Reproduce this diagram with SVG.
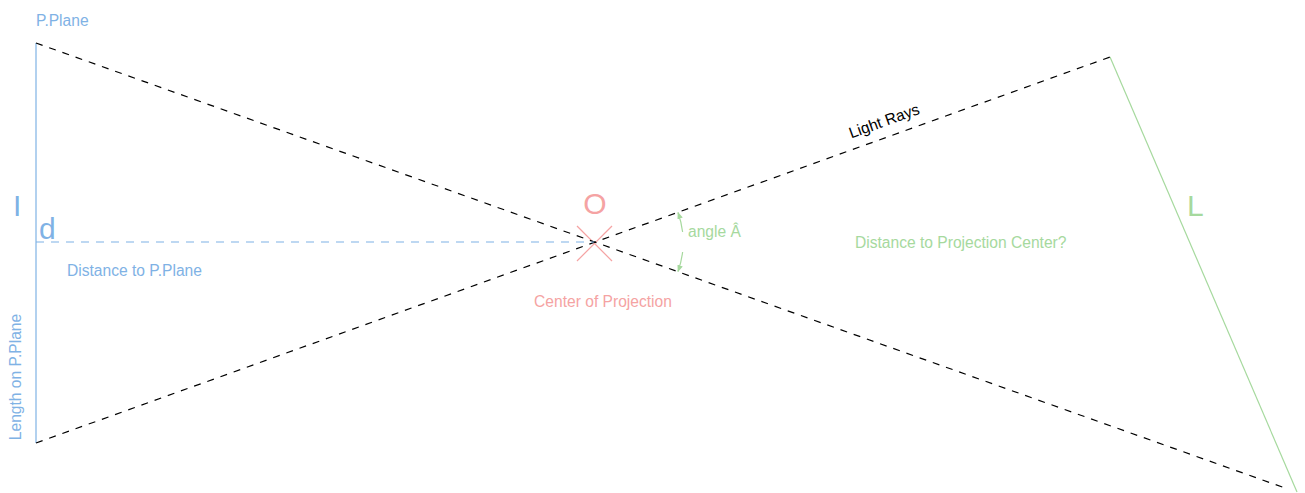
<svg xmlns="http://www.w3.org/2000/svg" width="1305" height="493" viewBox="0 0 1305 493">
  <style>
    .ray { stroke: #000; stroke-width: 1.2; stroke-dasharray: 7 7; fill: none; }
    .blue { fill: #7fb2e5; font-family: "Liberation Sans", Arial, sans-serif; }
    .green { fill: #a6d99e; font-family: "Liberation Sans", Arial, sans-serif; }
    .pink { fill: #f5a3a3; font-family: "Liberation Sans", Arial, sans-serif; }
    .small { font-size: 15.6px; }
    .big { font-size: 30px; }
  </style>
  <defs>
    <marker id="arrowGreen" viewBox="0 0 10 10" refX="9" refY="5" markerWidth="7" markerHeight="7" orient="auto-start-reverse" markerUnits="userSpaceOnUse">
      <path d="M0,1 L10,5 L0,9 Z" fill="#a6d99e"/>
    </marker>
  </defs>

  <!-- projection plane -->
  <g id="plane">
    <line x1="36" y1="43" x2="36" y2="443" stroke="#7fb2e5" stroke-width="1.2"/>
    <text class="blue small" x="36" y="26">P.Plane</text>
    <text class="blue big" x="13" y="216">I</text>
    <text class="blue small" transform="translate(21,377) rotate(-90)" text-anchor="middle">Length on P.Plane</text>
  </g>

  <!-- object -->
  <g id="object">
    <line x1="1110" y1="57" x2="1297" y2="492" stroke="#a6d99e" stroke-width="1.2"/>
    <text class="green big" x="1187" y="216">L</text>
    <text class="green small" x="855" y="248">Distance to Projection Center?</text>
  </g>

  <!-- center of projection -->
  <g id="center">
    <line x1="577" y1="226" x2="612" y2="261" stroke="#f5a3a3" stroke-width="1.2"/>
    <line x1="612" y1="226" x2="577" y2="261" stroke="#f5a3a3" stroke-width="1.2"/>
    <text class="pink big" x="595" y="214" text-anchor="middle">O</text>
    <text class="pink small" x="603" y="307" text-anchor="middle">Center of Projection</text>
  </g>

  <!-- connectors -->
  <g id="connectors">
    <line class="ray" x1="36" y1="43" x2="1285" y2="488"/>
    <line class="ray" x1="36" y1="443" x2="1110" y2="57"/>
    <line x1="36" y1="242" x2="594" y2="242" stroke="#7fb2e5" stroke-width="1.2" stroke-dasharray="8 7"/>
    <path d="M682.6,232 A89,89 0 0 0 678,212.5" stroke="#a6d99e" stroke-width="1.2" fill="none" marker-end="url(#arrowGreen)"/>
    <path d="M682.6,252 A89,89 0 0 1 678,271.5" stroke="#a6d99e" stroke-width="1.2" fill="none" marker-end="url(#arrowGreen)"/>
  </g>

  <!-- labels -->
  <g id="labels">
    <text class="blue big" x="39" y="239">d</text>
    <text class="blue small" x="67" y="276">Distance to P.Plane</text>
    <text class="green small" x="688" y="237">angle Â</text>
    <text class="small" x="886" y="126" text-anchor="middle" font-family="Liberation Sans, Arial, sans-serif" fill="#000" transform="rotate(-19.8 886 126)">Light Rays</text>
  </g>
</svg>
